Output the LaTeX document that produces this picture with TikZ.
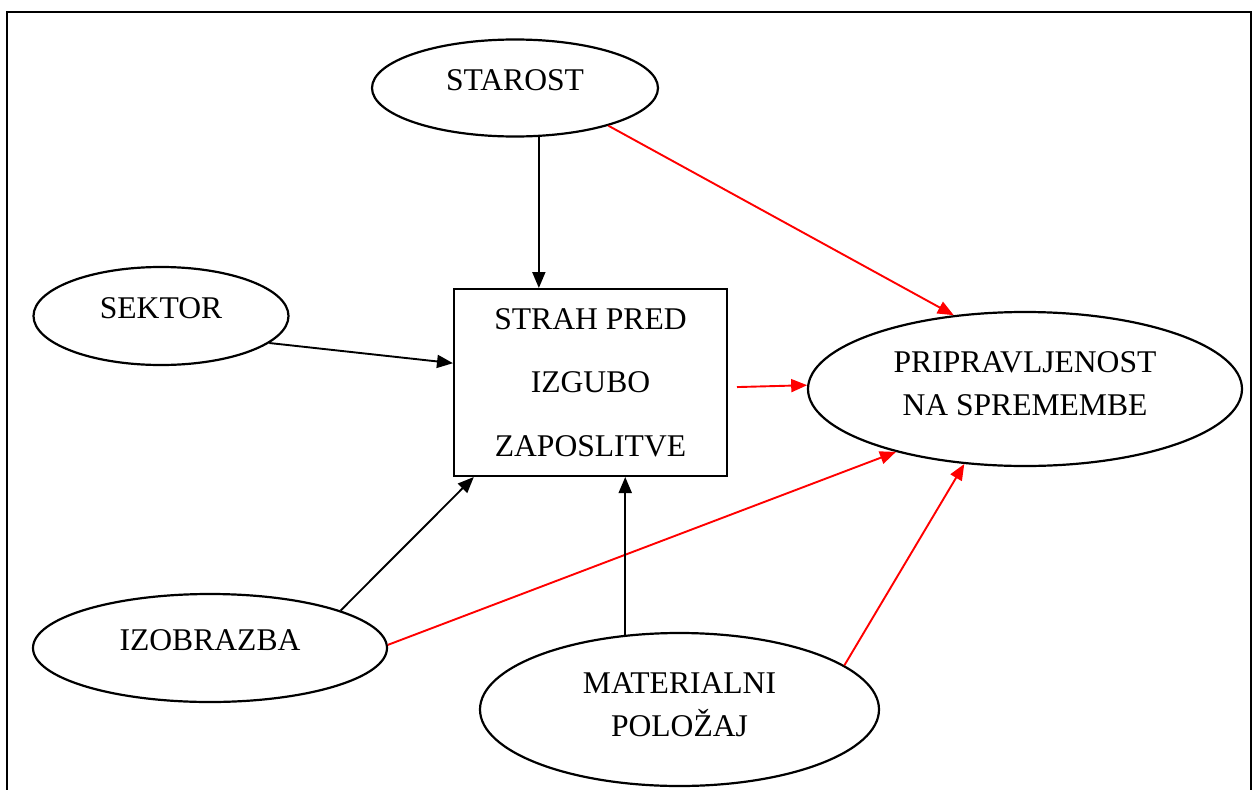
\documentclass[tikz,border=0pt]{standalone}
\usepackage{fontspec}
\setmainfont{Liberation Serif}
\usetikzlibrary{shapes.geometric, arrows.meta}

\begin{document}
\begin{tikzpicture}[x=1pt, y=-1pt,
		oval/.style={draw, ellipse, line width=2.2pt, inner sep=0pt, align=center, font=\fontsize{31.6}{43}\selectfont},
		single/.style={text height=21pt, text depth=16pt},
		cause/.style={->, >={Triangle[length=16pt, width=13pt]}, line width=1.9pt},
		effect/.style={cause, red}]
				\useasboundingbox (0,0) rectangle (1254,790);
				\draw[line width=2pt] (7,12) rectangle (1251,805);
				\node[oval, single, minimum width=286pt, minimum height=97pt] (ST)at(515, 88) {STAROST};
				\node[oval, single, minimum width=255pt, minimum height=98pt] (SE)at(161, 316) {SEKTOR};
				\node[oval, single, minimum width=354pt, minimum height=108pt] (IZ)at(210, 648) {IZOBRAZBA};
				\node[oval, minimum width=399pt, minimum height=153pt] (MP)at(679.5, 709.5) {MATERIALNI\\POLOŽAJ\rule[-10pt]{0pt}{0pt}};
				\node[oval, minimum width=434pt, minimum height=154pt] (PS)at(1025, 389) {PRIPRAVLJENOST\\NA SPREMEMBE\rule[-10pt]{0pt}{0pt}};
				\node[draw, rectangle, line width=2pt, inner sep=0pt, minimum width=273pt, minimum height=187pt, align=center, font=\fontsize{31.6}{63.5}\selectfont] (SI)at(590.5, 382.5) {STRAH PRED\\IZGUBO\\ZAPOSLITVE};
				\draw[cause] (ST.-64) -- (ST.-64 |- SI.north);
				\draw[effect] (ST.-22) -- (PS.134);
				\draw[cause] (SE.-14) -- (SI.172.7);
				\draw[effect, shorten <=9pt] (SI.-2.3) -- (PS.179);
				\draw[cause] (IZ.16) -- (SI.219.4);
				\draw[effect] (IZ.1) -- (PS.206);
				\draw[cause] (MP.126) -- (MP.126 |- SI.south);
				\draw[effect] (MP.15) -- (PS.231.5);
			\end{tikzpicture}
\end{document}
